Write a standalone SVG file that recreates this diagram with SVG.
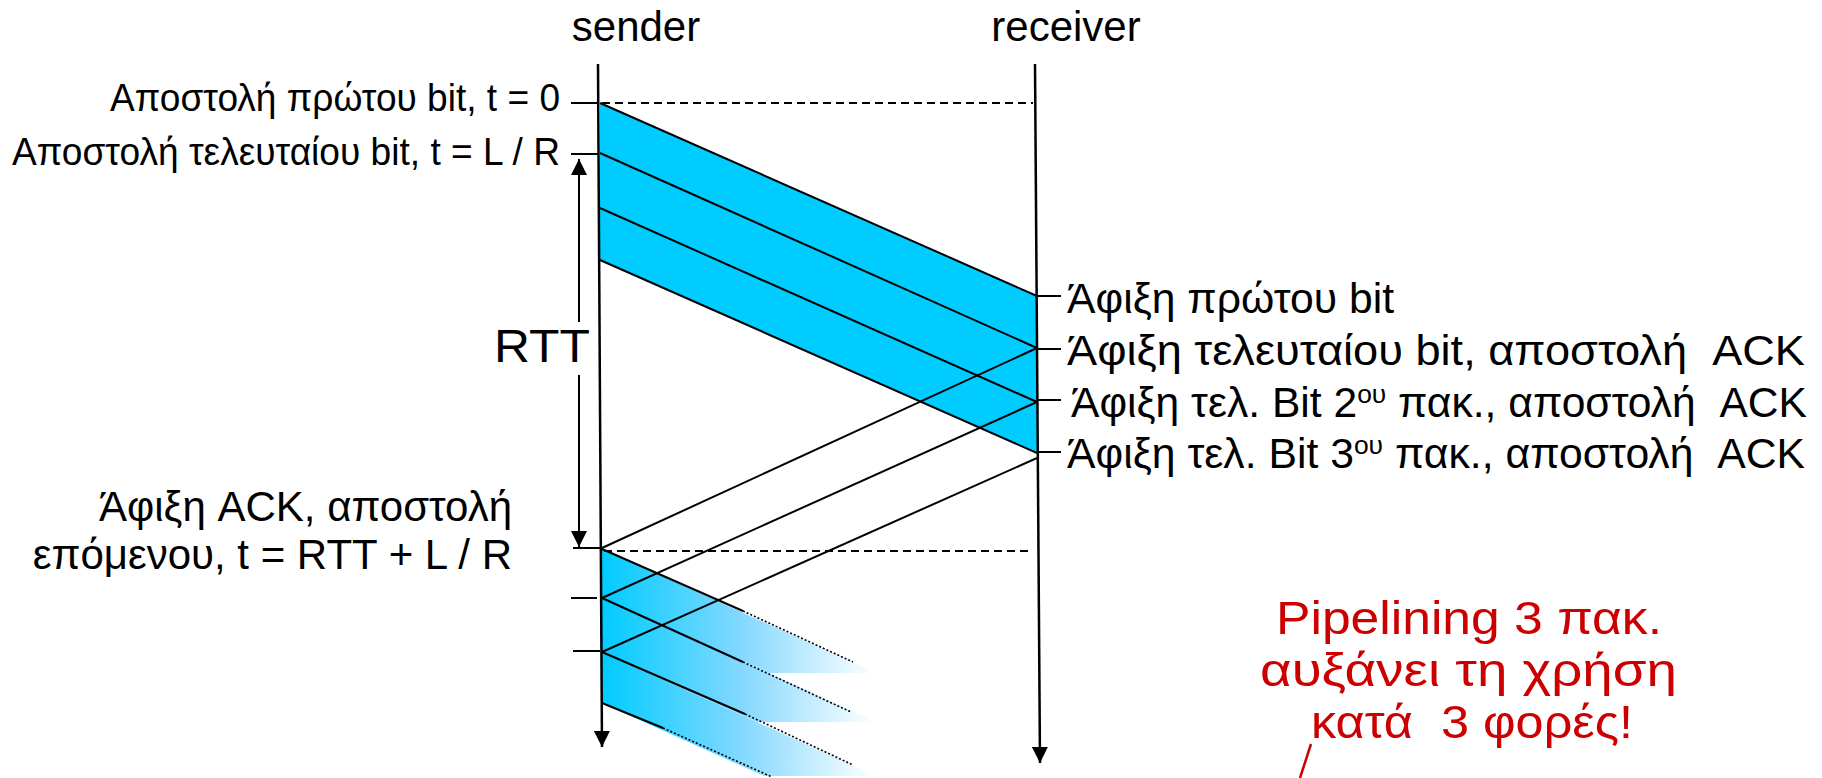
<svg xmlns="http://www.w3.org/2000/svg" width="1822" height="778" viewBox="0 0 1822 778">
<style>
text{font-family:"Liberation Sans",Arial,sans-serif;fill:#000}
.lbl{font-size:39px}
.big{font-size:42px}
.rl{font-size:42px}
.red{font-size:46px;fill:#CC0000}
.ln{stroke:#000;stroke-width:2;fill:none}
.life{stroke:#000;stroke-width:2.5;fill:none}
.dash{stroke:#000;stroke-width:2;stroke-dasharray:8,5;fill:none}
.dot{stroke:#000;stroke-width:1.6;stroke-dasharray:2,2;fill:none}
.sup{font-size:26px}
</style>
<defs>
<marker id="ah" markerUnits="userSpaceOnUse" markerWidth="16" markerHeight="16" refX="16" refY="8" orient="auto">
<path d="M0,0 L16,8 L0,16 z" fill="#000"/>
</marker>
<linearGradient id="fade" gradientUnits="userSpaceOnUse" x1="602" y1="0" x2="875" y2="0">
<stop offset="0" stop-color="#00CCFF"/>
<stop offset="0.5" stop-color="#80D8FF"/>
<stop offset="1" stop-color="#FFFFFF"/>
</linearGradient>
</defs>
<rect width="1822" height="778" fill="#fff"/>

<g id="packets">
<polygon points="600,103 1037,296 1037,453 600,260" fill="#00CCFF"/>
<polygon points="602,549 870,670 870,673 769,673 602,598" fill="url(#fade)"/>
<polygon points="602,598 870,719 870,722 757,722 602,652" fill="url(#fade)"/>
<polygon points="602,652 870,773 870,776 764,776 602,703" fill="url(#fade)"/>
</g>

<g id="connectors">
<line class="life" x1="598" y1="64" x2="602" y2="747" marker-end="url(#ah)"/>
<line class="life" x1="1035" y1="64" x2="1040" y2="763" marker-end="url(#ah)"/>
<line class="dash" x1="602" y1="103" x2="1033" y2="103"/>
<line class="dash" x1="604" y1="551" x2="1033" y2="551"/>
<line class="ln" x1="571" y1="103" x2="599" y2="103"/>
<line class="ln" x1="571" y1="154" x2="599" y2="154"/>
<line class="ln" x1="573" y1="548" x2="600" y2="548"/>
<line class="ln" x1="571" y1="598" x2="597" y2="598"/>
<line class="ln" x1="573" y1="651" x2="600" y2="651"/>
<line class="ln" x1="1038" y1="296" x2="1061" y2="296"/>
<line class="ln" x1="1038" y1="349" x2="1061" y2="349"/>
<line class="ln" x1="1038" y1="400" x2="1061" y2="400"/>
<line class="ln" x1="1038" y1="452" x2="1061" y2="452"/>
<line class="ln" x1="579" y1="322" x2="579" y2="159" marker-end="url(#ah)"/>
<line class="ln" x1="579" y1="375" x2="579" y2="547" marker-end="url(#ah)"/>
<line class="ln" x1="600" y1="103" x2="1037" y2="296"/>
<line class="ln" x1="600" y1="153" x2="1037" y2="348"/>
<line class="ln" x1="600" y1="208" x2="1037" y2="402"/>
<line class="ln" x1="600" y1="260" x2="1037" y2="453"/>
<line class="ln" x1="1037" y1="348" x2="602" y2="548"/>
<line class="ln" x1="1037" y1="402" x2="602" y2="598"/>
<line class="ln" x1="1037" y1="458" x2="602" y2="652"/>
<line class="ln" x1="602" y1="549" x2="743" y2="611"/>
<line class="dot" x1="743" y1="611" x2="853" y2="662"/>
<line class="ln" x1="602" y1="598" x2="743" y2="662"/>
<line class="dot" x1="743" y1="662" x2="851" y2="712"/>
<line class="ln" x1="602" y1="652" x2="745" y2="714"/>
<line class="dot" x1="745" y1="714" x2="853" y2="765"/>
<line class="ln" x1="602" y1="703" x2="663" y2="728"/>
<line class="dot" x1="663" y1="728" x2="772" y2="777"/>
</g>

<g id="sender"><text class="big" x="636" y="41" text-anchor="middle">sender</text></g>
<g id="receiver"><text class="big" x="1066" y="41" text-anchor="middle">receiver</text></g>
<g id="send-first"><text class="lbl" x="110" y="111" textLength="450" lengthAdjust="spacingAndGlyphs">Αποστολή πρώτου bit, t = 0</text></g>
<g id="send-last"><text class="lbl" x="12" y="165" textLength="548" lengthAdjust="spacingAndGlyphs">Αποστολή τελευταίου bit, t = L / R</text></g>
<g id="rtt"><text x="494" y="362" style="font-size:46px" textLength="96" lengthAdjust="spacingAndGlyphs">RTT</text></g>
<g id="ack-arrival">
<text class="big" x="512" y="521" text-anchor="end">Άφιξη ACK, αποστολή</text>
<text class="big" x="512" y="569" text-anchor="end">επόμενου, t = RTT + L / R</text>
</g>
<g id="arr-first"><text class="rl" x="1067" y="313" textLength="327" lengthAdjust="spacingAndGlyphs">Άφιξη πρώτου bit</text></g>
<g id="arr-last"><text class="rl" x="1067" y="365" textLength="738" lengthAdjust="spacingAndGlyphs" xml:space="preserve">Άφιξη τελευταίου bit, αποστολή  ACK</text></g>
<g id="arr-2"><text class="rl" x="1071" y="417" textLength="736" lengthAdjust="spacingAndGlyphs" xml:space="preserve">Άφιξη τελ. Bit 2<tspan class="sup" dy="-14">ου</tspan><tspan dy="14"> πακ., αποστολή  ACK</tspan></text></g>
<g id="arr-3"><text class="rl" x="1067" y="468" textLength="738" lengthAdjust="spacingAndGlyphs" xml:space="preserve">Άφιξη τελ. Bit 3<tspan class="sup" dy="-14">ου</tspan><tspan dy="14"> πακ., αποστολή  ACK</tspan></text></g>
<g id="note">
<text class="red" x="1276" y="634" textLength="386" lengthAdjust="spacingAndGlyphs">Pipelining 3 πακ.</text>
<text class="red" x="1260" y="686" textLength="417" lengthAdjust="spacingAndGlyphs">αυξάνει τη χρήση</text>
<text class="red" x="1311" y="738" textLength="322" lengthAdjust="spacingAndGlyphs" xml:space="preserve">κατά  3 φορές!</text>
<line x1="1311" y1="744" x2="1300" y2="778" stroke="#CC0000" stroke-width="2.5"/>
</g>
</svg>
